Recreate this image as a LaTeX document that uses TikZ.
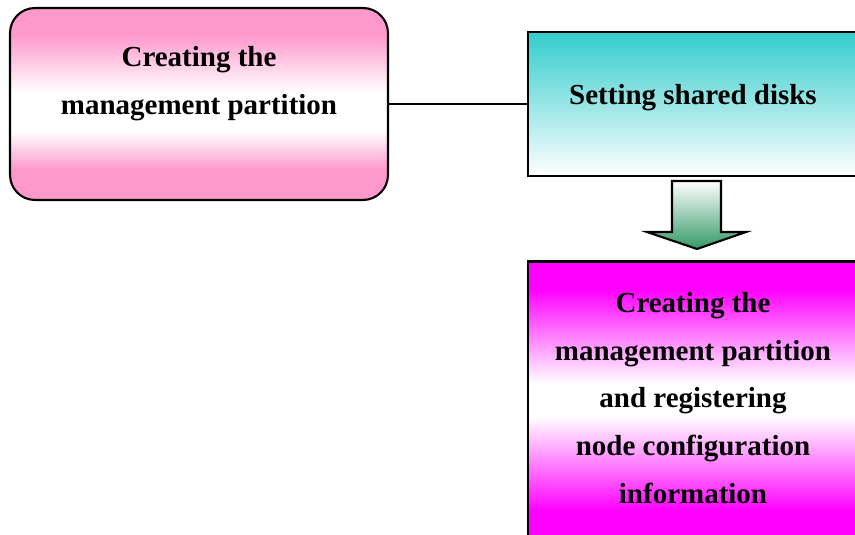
\documentclass[tikz,border=0pt]{standalone}
\usepackage{fontspec}
\setmainfont{Liberation Serif}
\usetikzlibrary{positioning,calc}
\definecolor{rosepink}{HTML}{FF99CC}
\definecolor{diskteal}{HTML}{33CCCC}
\definecolor{nodemagenta}{HTML}{FF00FF}
\definecolor{arrowgreen}{HTML}{339966}
\pgfdeclareverticalshading{pinkband}{100bp}{color(0bp)=(rosepink); color(33bp)=(rosepink); color(43bp)=(white); color(53bp)=(white); color(68bp)=(rosepink); color(100bp)=(rosepink)}
\pgfdeclareverticalshading{magentaband}{100bp}{color(0bp)=(nodemagenta); color(30bp)=(nodemagenta); color(47bp)=(white); color(53bp)=(white); color(70bp)=(nodemagenta); color(100bp)=(nodemagenta)}
\tikzset{
  box/.style={draw=black, line width=1.2pt, inner sep=0pt},
  pinkbox/.style={box, rounded corners=5mm, shading=pinkband},
  tealbox/.style={box, top color=diskteal, bottom color=white},
  magentabox/.style={box, shading=magentaband},
  boxtext/.style={font=\fontsize{16.5}{27.2}\selectfont\bfseries, align=center, inner sep=0pt},
  link/.style={line width=1.2pt, draw=black}
}
\begin{document}
\begin{tikzpicture}[x=0.02cm, y=0.02cm]
  \useasboundingbox (0,0) rectangle (855,534);
  \clip (0,0) rectangle (855,534);

  % the three steps
  \node[pinkbox, minimum width=7.56cm, minimum height=3.84cm] (mgmt) at (199,430) {};
  \node[tealbox, minimum width=6.6cm, minimum height=2.88cm] (disks) at (693,430) {};
  \node[magentabox, minimum width=6.6cm, minimum height=5.54cm] (register) at (693,134) {};

  \node[boxtext] (mgmt-t) at (199,450) {Creating the\\management partition};
  \node[boxtext] (disks-t) at (693,436) {Setting shared disks};
  \node[boxtext] (register-t) at (693,136) {Creating the\\management partition\\and registering\\node configuration\\information};

  \draw[link] (mgmt.east) -- (disks.west);

  % block arrow down
  \shade[draw=black, line width=1.2pt, top color=white, bottom color=arrowgreen]
    (672,353) -- (721,353) -- (721,302) -- (746,302) -- (697,285)
    -- (647,302) -- (672,302) -- cycle;
\end{tikzpicture}
\end{document}
